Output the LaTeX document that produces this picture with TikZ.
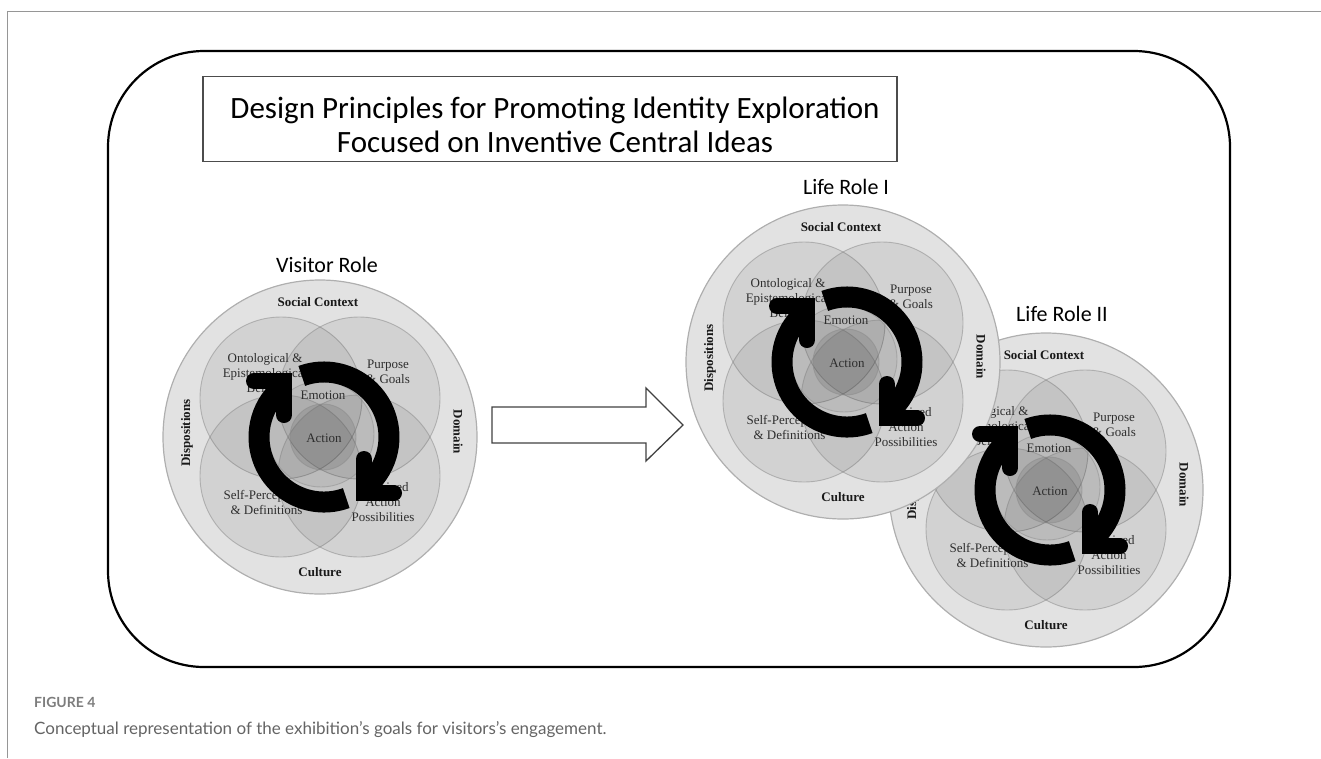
\documentclass[tikz,border=0pt]{standalone}
\usepackage{fontspec}
\setmainfont{Liberation Serif}
\newfontfamily\headfont{Carlito}
\newfontfamily\notefont{Lato}

\definecolor{ringfill}{RGB}{226,226,226}
\definecolor{ringline}{RGB}{175,175,175}
\definecolor{petalline}{RGB}{140,140,140}
\definecolor{framegray}{RGB}{150,150,150}
\definecolor{capgray}{RGB}{100,100,100}
\definecolor{labelgray}{RGB}{125,125,125}

\tikzset{
  ring/.style={draw=ringline, line width=1.2pt, fill=ringfill},
  petal/.style={draw=petalline, draw opacity=0.55, line width=0.9pt, fill=black, fill opacity=0.065},
  inner ring/.style={draw=petalline, draw opacity=0.5, line width=0.9pt, fill=black, fill opacity=0.045},
  core/.style={draw=petalline, draw opacity=0.55, line width=0.9pt, fill=black, fill opacity=0.09},
  tag/.style={font=\fontsize{13}{15}\selectfont, text=black!82, align=center, inner sep=0pt},
  boldtag/.style={font=\fontsize{13}{15}\selectfont\bfseries, text=black!90, align=center, inner sep=0pt},
  rolename/.style={font=\headfont\fontsize{22}{26}\selectfont, inner sep=0pt, anchor=base},
  titleline/.style={font=\headfont\fontsize{31}{34}\selectfont, inner sep=0pt, anchor=base},
  turnband/.style={line width=21pt, black},
  turnhead/.style={line width=16pt, black, line cap=round, line join=miter},
}

% circles and labels of one role diagram; #1,#2 centre, #3 name prefix
\newcommand\RoleBase[3]{%
  \begin{scope}[shift={(#1,-#2)}]
    \filldraw[ring] (0,0) circle[radius=157];
    \foreach \px/\py in {-39/39, 39/39, -39/-39, 39/-39}
      \filldraw[petal] (\px,\py) circle[radius=81];
    \filldraw[inner ring] (1,3) circle[radius=53];
    \filldraw[core] (3,0) circle[radius=33];
    \node[boldtag] (#3-social) at (-2,135) {Social Context};
    \node[boldtag] (#3-culture) at (0,-135) {Culture};
    \node[boldtag, rotate=90] (#3-disp) at (-133,4) {Dispositions};
    \node[boldtag, rotate=-90] (#3-domain) at (138,5) {Domain};
    \node[tag] (#3-onto) at (-55,64) {Ontological \&\\Epistemological\\Beliefs};
    \node[tag] (#3-purp) at (68,65.5) {Purpose\\\& Goals};
    \node[tag] (#3-emo) at (3,42) {Emotion};
    \node[tag] (#3-act) at (4,-1) {Action};
    \node[tag] (#3-self) at (-53.5,-65.5) {Self-Perceptions\\\& Definitions};
    \node[tag] (#3-perc) at (63,-65) {Perceived\\Action\\Possibilities};
  \end{scope}}

% the pair of bent arrows turning round the centre
\newcommand\RoleTurn[2]{%
  \begin{scope}[shift={(#1+4,-#2)}]
    \draw[turnband] (-70:65) arc[start angle=-70, end angle=-233, radius=65];
    \draw[turnband] (110:65) arc[start angle=110, end angle=-53, radius=65];
    \draw[turnhead] (-70,56) -- (-40,56) -- (-40,22);
    \draw[turnhead] (40,-22) -- (40,-56) -- (70,-56);
  \end{scope}}

\begin{document}
\begin{tikzpicture}[x=1pt, y=1pt]
  \useasboundingbox (0,0) rectangle (1321,-758);

  % page frame
  \draw[framegray, line width=1pt] (7.3,-758) -- (7.3,-11) -- (1321,-11);

  % rounded panel
  \draw[line width=2.2pt, rounded corners=96pt] (108,-51) rectangle (1230,-667);

  % title
  \node[draw=black!70, line width=1.1pt, minimum width=694pt, minimum height=85pt, inner sep=0pt]
    (titlebox) at (550,-119.2) {};
  \node[titleline] (title1) at (555,-118) {Design Principles for Promoting Identity Exploration};
  \node[titleline] (title2) at (555,-152) {Focused on Inventive Central Ideas};

  % visitor role
  \RoleBase{320}{437}{vis}
  \RoleTurn{320}{437}
  \node[rolename] (visname) at (327,-272) {Visitor Role};

  % block arrow between the roles
  \draw[black!75, line width=1.3pt, line join=miter]
    (492,-407) -- (646,-407) -- (646,-388) -- (683,-425) -- (646,-461) -- (646,-443) -- (492,-443) -- cycle;

  % life roles
  \RoleBase{1046}{490}{lrb}
  \RoleBase{843}{362}{lra}
  \RoleTurn{843}{362}
  \RoleTurn{1046}{490}
  \node[rolename] (lraname) at (846,-194) {Life Role I};
  \node[rolename] (lrbname) at (1062,-321) {Life Role II};

  % caption
  \node[anchor=base west, inner sep=0pt, font=\notefont\fontsize{14}{16}\selectfont\bfseries, text=labelgray]
    (fignum) at (34,-707) {FIGURE 4};
  \node[anchor=base west, inner sep=0pt, font=\notefont\fontsize{17}{20}\selectfont, text=capgray]
    (figcap) at (34,-734) {Conceptual representation of the exhibition’s goals for visitors’s engagement.};
\end{tikzpicture}
\end{document}
